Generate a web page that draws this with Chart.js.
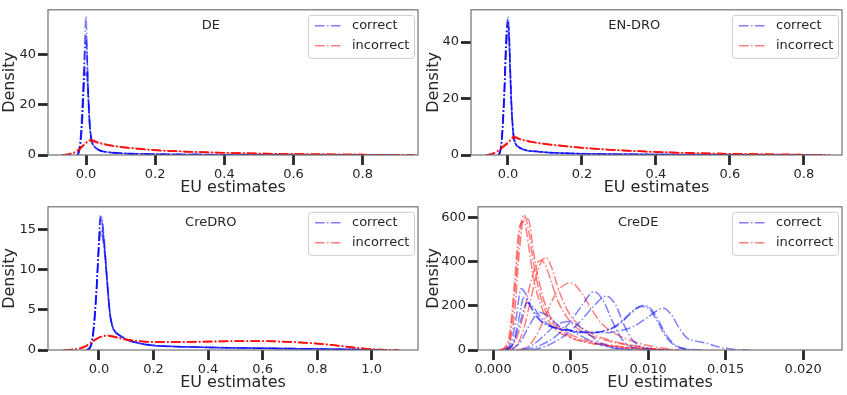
<!DOCTYPE html>
<html>
<head>
<meta charset="utf-8">
<script src="https://cdn.jsdelivr.net/npm/chart.js@4.4.0/dist/chart.umd.min.js"></script>
<style>
  html, body { margin: 0; padding: 0; background: #fff; }
  #wrap { position: relative; width: 847px; height: 395px; }
  #wrap canvas { position: absolute; }
</style>
</head>
<body>
<div id="wrap">
  <canvas id="de" width="424" height="197" style="left:0;top:0"></canvas>
  <canvas id="endro" width="423" height="197" style="left:424px;top:0"></canvas>
  <canvas id="credro" width="424" height="198" style="left:0;top:197px"></canvas>
  <canvas id="crede" width="423" height="198" style="left:424px;top:197px"></canvas>
</div>
<script>
// ---- DE ----
const deXTicks = [0.0, 0.2, 0.4, 0.6, 0.8];
const deYTicks = [0, 20, 40];
const deCorrectX = [-0.025, -0.02, -0.015, -0.01, -0.005, 0, 0.003, 0.006, 0.01, 0.015, 0.02, 0.03, 0.04, 0.06, 0.08, 0.1, 0.15, 0.2, 0.3, 0.4, 0.5, 0.6, 0.7, 0.8, 0.9];
const deCorrect1 = [0, 2, 8, 20, 40, 55, 42, 28, 15, 6.5, 4.2, 2.6, 1.8, 1.2, 0.9, 0.7, 0.5, 0.35, 0.2, 0.12, 0.08, 0.05, 0.03, 0.02, 0];
const deCorrect2 = [0, 1.5, 6, 16, 28, 33, 31, 23, 13, 6.5, 4.3, 2.7, 1.8, 1.2, 0.9, 0.7, 0.5, 0.35, 0.2, 0.12, 0.08, 0.05, 0.03, 0.02, 0];
const deCorrect3 = [0, 1, 5, 15, 34, 48, 38, 24, 12, 6, 4, 2.5, 1.7, 1.1, 0.85, 0.65, 0.45, 0.3, 0.18, 0.1, 0.07, 0.04, 0.03, 0.02, 0];
const deCorrect4 = [0, 1.8, 7, 18, 36, 45, 40, 27, 14, 6.8, 4.4, 2.8, 1.9, 1.3, 0.95, 0.75, 0.52, 0.36, 0.21, 0.12, 0.08, 0.05, 0.03, 0.02, 0];
const deCorrect5 = [0, 2.2, 9, 22, 33, 35, 32, 25, 14, 6.2, 4.1, 2.6, 1.75, 1.15, 0.88, 0.68, 0.48, 0.33, 0.19, 0.11, 0.07, 0.05, 0.03, 0.02, 0];
const deIncorrectX = [-0.07, -0.05, -0.03, -0.02, -0.01, 0, 0.01, 0.015, 0.02, 0.03, 0.05, 0.075, 0.1, 0.15, 0.2, 0.25, 0.3, 0.4, 0.5, 0.6, 0.7, 0.8, 0.9, 0.95];
const deIncorrect1 = [0, 0.3, 1.2, 2.2, 3.5, 4.8, 5.7, 5.9, 5.7, 5.2, 4.4, 3.7, 3.2, 2.5, 1.9, 1.6, 1.3, 0.9, 0.6, 0.4, 0.25, 0.15, 0.05, 0];
const deIncorrect2 = [0, 0.4, 1.4, 2.5, 3.8, 5.0, 5.5, 5.5, 5.3, 4.9, 4.2, 3.6, 3.1, 2.4, 1.9, 1.5, 1.25, 0.85, 0.55, 0.38, 0.24, 0.14, 0.05, 0];
const deIncorrect3 = [0, 0.2, 1.0, 2.0, 3.4, 4.9, 6.0, 6.2, 6.0, 5.4, 4.5, 3.8, 3.3, 2.6, 2.0, 1.6, 1.3, 0.9, 0.6, 0.4, 0.26, 0.15, 0.05, 0];
const deIncorrect4 = [0, 0.35, 1.3, 2.3, 3.6, 4.9, 5.8, 6.0, 5.8, 5.3, 4.5, 3.8, 3.25, 2.55, 1.95, 1.6, 1.3, 0.9, 0.6, 0.4, 0.25, 0.15, 0.05, 0];
const deIncorrect5 = [0, 0.25, 1.1, 2.1, 3.3, 4.6, 5.6, 5.8, 5.6, 5.1, 4.3, 3.65, 3.15, 2.45, 1.85, 1.55, 1.25, 0.88, 0.58, 0.39, 0.24, 0.14, 0.05, 0];

// ---- EN-DRO ----
const enXTicks = [0.0, 0.2, 0.4, 0.6, 0.8];
const enYTicks = [0, 20, 40];
const enCorrectX = [-0.025, -0.02, -0.015, -0.01, -0.005, 0, 0.003, 0.006, 0.01, 0.015, 0.02, 0.03, 0.04, 0.05, 0.075, 0.1, 0.15, 0.2, 0.3, 0.4, 0.5, 0.6, 0.7, 0.8, 0.85];
const enCorrect1 = [0, 2, 9, 22, 40, 49, 44, 32, 17, 7, 4.3, 2.8, 2.1, 1.7, 1.3, 1.0, 0.7, 0.5, 0.3, 0.2, 0.12, 0.07, 0.04, 0.02, 0];
const enCorrect2 = [0, 1.5, 7, 19, 36, 44, 42, 30, 16, 7, 4.2, 2.7, 2.0, 1.6, 1.25, 0.95, 0.65, 0.45, 0.28, 0.18, 0.11, 0.06, 0.04, 0.02, 0];
const enCorrect3 = [0, 2.5, 10, 24, 42, 47, 40, 28, 15, 6.5, 4, 2.6, 1.9, 1.6, 1.2, 0.9, 0.6, 0.45, 0.27, 0.17, 0.1, 0.06, 0.03, 0.02, 0];
const enCorrect4 = [0, 1.8, 8, 21, 38, 46, 43, 31, 16.5, 7.2, 4.4, 2.9, 2.1, 1.7, 1.3, 1.0, 0.68, 0.48, 0.29, 0.19, 0.11, 0.07, 0.04, 0.02, 0];
const enCorrect5 = [0, 2.2, 9.5, 23, 41, 48, 42, 29, 15.5, 6.8, 4.1, 2.7, 2.0, 1.6, 1.25, 0.95, 0.64, 0.46, 0.28, 0.18, 0.1, 0.06, 0.03, 0.02, 0];
const enIncorrectX = [-0.06, -0.045, -0.03, -0.02, -0.01, 0, 0.01, 0.015, 0.02, 0.03, 0.05, 0.075, 0.1, 0.15, 0.2, 0.25, 0.3, 0.4, 0.5, 0.6, 0.7, 0.8, 0.87];
const enIncorrect1 = [0, 0.3, 1.2, 2.2, 3.2, 4.3, 5.8, 6.3, 6.2, 5.7, 5.0, 4.4, 3.9, 3.2, 2.6, 2.1, 1.7, 1.1, 0.7, 0.45, 0.25, 0.12, 0];
const enIncorrect2 = [0, 0.4, 1.4, 2.5, 3.6, 4.6, 6.1, 6.7, 6.5, 5.9, 5.1, 4.5, 4.0, 3.3, 2.6, 2.1, 1.7, 1.1, 0.7, 0.45, 0.25, 0.12, 0];
const enIncorrect3 = [0, 0.2, 1.0, 2.0, 3.0, 4.1, 5.5, 6.0, 6.0, 5.6, 4.9, 4.3, 3.8, 3.1, 2.5, 2.0, 1.6, 1.05, 0.65, 0.42, 0.24, 0.11, 0];
const enIncorrect4 = [0, 0.35, 1.3, 2.4, 3.4, 4.5, 5.9, 6.5, 6.4, 5.8, 5.05, 4.45, 3.95, 3.25, 2.6, 2.1, 1.7, 1.1, 0.7, 0.45, 0.25, 0.12, 0];
const enIncorrect5 = [0, 0.25, 1.1, 2.1, 3.1, 4.2, 5.6, 6.1, 6.1, 5.65, 4.95, 4.35, 3.85, 3.15, 2.55, 2.05, 1.65, 1.08, 0.68, 0.44, 0.24, 0.11, 0];

// ---- CreDRO ----
const credroXTicks = [0.0, 0.2, 0.4, 0.6, 0.8, 1.0];
const credroYTicks = [0, 5, 10, 15];
const credroCorrectX = [-0.045, -0.03, -0.02, -0.01, 0, 0.005, 0.01, 0.02, 0.03, 0.04, 0.05, 0.06, 0.08, 0.1, 0.15, 0.2, 0.3, 0.4, 0.5, 0.6, 0.7, 0.8, 0.9, 1.0, 1.05];
const credroCorrect1 = [0, 0.5, 2.5, 7, 14, 16.8, 16.3, 13, 8.5, 4.5, 2.8, 2.2, 1.7, 1.3, 0.8, 0.55, 0.4, 0.32, 0.26, 0.22, 0.18, 0.14, 0.09, 0.03, 0];
const credroCorrect2 = [0, 0.6, 2.8, 7.5, 13, 15, 14.6, 12.2, 8.2, 4.4, 2.8, 2.2, 1.7, 1.3, 0.8, 0.55, 0.4, 0.32, 0.26, 0.22, 0.18, 0.14, 0.09, 0.03, 0];
const credroCorrect3 = [0, 0.4, 2.2, 6.5, 13.5, 16.2, 16.6, 13.4, 8.8, 4.7, 2.9, 2.3, 1.75, 1.35, 0.85, 0.58, 0.42, 0.33, 0.27, 0.22, 0.18, 0.13, 0.08, 0.03, 0];
const credroCorrect4 = [0, 0.55, 2.6, 7.2, 13.8, 16.4, 16.0, 12.8, 8.4, 4.6, 2.85, 2.25, 1.72, 1.32, 0.82, 0.56, 0.41, 0.32, 0.26, 0.22, 0.18, 0.14, 0.09, 0.03, 0];
const credroCorrect5 = [0, 0.45, 2.4, 6.8, 12.8, 14.6, 14.9, 12.9, 8.9, 4.8, 2.95, 2.3, 1.76, 1.36, 0.84, 0.57, 0.42, 0.33, 0.27, 0.22, 0.17, 0.13, 0.08, 0.03, 0];
const credroIncorrectX = [-0.13, -0.1, -0.07, -0.05, -0.03, -0.01, 0.01, 0.03, 0.05, 0.08, 0.1, 0.15, 0.2, 0.3, 0.4, 0.5, 0.6, 0.7, 0.8, 0.85, 0.9, 0.95, 1.0, 1.05, 1.1];
const credroIncorrect1 = [0, 0.05, 0.2, 0.45, 0.9, 1.35, 1.7, 1.8, 1.7, 1.45, 1.3, 1.1, 1.0, 1.0, 1.05, 1.1, 1.1, 1.0, 0.8, 0.65, 0.45, 0.25, 0.1, 0.03, 0];
const credroIncorrect2 = [0, 0.06, 0.25, 0.5, 0.95, 1.4, 1.65, 1.72, 1.62, 1.4, 1.25, 1.07, 0.98, 0.97, 1.02, 1.08, 1.08, 0.98, 0.78, 0.62, 0.43, 0.24, 0.1, 0.03, 0];
const credroIncorrect3 = [0, 0.04, 0.18, 0.4, 0.85, 1.3, 1.72, 1.85, 1.75, 1.5, 1.33, 1.12, 1.02, 1.02, 1.08, 1.12, 1.12, 1.02, 0.82, 0.66, 0.46, 0.26, 0.11, 0.03, 0];
const credroIncorrect4 = [0, 0.05, 0.22, 0.48, 0.92, 1.38, 1.68, 1.78, 1.68, 1.43, 1.28, 1.09, 1.0, 0.99, 1.04, 1.09, 1.09, 0.99, 0.79, 0.64, 0.44, 0.25, 0.1, 0.03, 0];
const credroIncorrect5 = [0, 0.04, 0.19, 0.43, 0.88, 1.32, 1.7, 1.82, 1.72, 1.47, 1.31, 1.11, 1.01, 1.01, 1.06, 1.11, 1.11, 1.01, 0.81, 0.65, 0.45, 0.25, 0.1, 0.03, 0];

// ---- CreDE ----
const credeXTicks = [0.000, 0.005, 0.010, 0.015, 0.020];
const credeYTicks = [0, 200, 400, 600];
const creRedX1 = [0.0004, 0.0008, 0.0011, 0.0014, 0.0017, 0.0020, 0.0023, 0.0026, 0.0030, 0.0035, 0.0040, 0.0050, 0.0060, 0.0070, 0.0080, 0.0090, 0.0100, 0.0110];
const creRed1 = [0, 10, 60, 260, 520, 615, 540, 400, 260, 160, 110, 60, 38, 25, 15, 8, 3, 0];
const creRed2 = [0, 15, 90, 320, 560, 585, 470, 330, 220, 140, 95, 55, 35, 22, 13, 6, 2, 0];
const creRed3 = [0, 5, 40, 180, 450, 600, 590, 450, 300, 180, 120, 70, 45, 30, 18, 10, 4, 0];
const creRedX2 = [0.0008, 0.0012, 0.0016, 0.0020, 0.0024, 0.0028, 0.0031, 0.0034, 0.0038, 0.0042, 0.0048, 0.0055, 0.0065, 0.0075, 0.0085, 0.0095, 0.0105, 0.0115];
const creRed4 = [0, 15, 70, 170, 300, 390, 408, 380, 300, 220, 145, 95, 60, 40, 25, 12, 4, 0];
const creRed5 = [0, 5, 30, 100, 220, 340, 400, 420, 370, 280, 180, 115, 70, 45, 28, 15, 5, 0];
const creRedX3 = [0.0015, 0.0020, 0.0025, 0.0030, 0.0035, 0.0040, 0.0045, 0.0049, 0.0053, 0.0058, 0.0063, 0.0070, 0.0080, 0.0090, 0.0100, 0.0110, 0.0120];
const creRed6 = [0, 8, 35, 95, 175, 250, 292, 305, 295, 250, 190, 120, 70, 40, 20, 8, 0];
const creBlueX1 = [0.0008, 0.0012, 0.0015, 0.0018, 0.0021, 0.0025, 0.0030, 0.0035, 0.0040, 0.0050, 0.0060, 0.0070, 0.0080, 0.0088, 0.0093, 0.0097, 0.0102, 0.0107, 0.0112, 0.0118, 0.0125, 0.0135];
const creBlue1 = [0, 40, 150, 278, 255, 185, 135, 112, 100, 88, 80, 84, 110, 160, 192, 203, 185, 130, 65, 20, 5, 0];
const creBlueX2 = [0.0008, 0.0013, 0.0017, 0.0022, 0.0026, 0.0030, 0.0035, 0.0040, 0.0050, 0.0060, 0.0070, 0.0080, 0.0090, 0.0100, 0.0106, 0.0110, 0.0115, 0.0120, 0.0125, 0.0130, 0.0137, 0.0145, 0.0155, 0.0165];
const creBlue2 = [0, 30, 115, 215, 195, 155, 120, 100, 85, 78, 78, 85, 105, 150, 180, 190, 160, 100, 55, 42, 32, 15, 3, 0];
const creBlueX3 = [0.0012, 0.0018, 0.0024, 0.0030, 0.0036, 0.0042, 0.0048, 0.0055, 0.0065, 0.0075, 0.0090];
const creBlue3 = [0, 40, 120, 172, 150, 112, 95, 70, 35, 12, 0];
const creBlueX4 = [0.0018, 0.0025, 0.0032, 0.0040, 0.0048, 0.0055, 0.0062, 0.0070, 0.0080, 0.0090];
const creBlue4 = [0, 20, 60, 110, 130, 110, 70, 30, 8, 0];
const creBlueX5 = [0.0020, 0.0030, 0.0040, 0.0050, 0.0058, 0.0065, 0.0071, 0.0077, 0.0083, 0.0090, 0.0100];
const creBlue5 = [0, 20, 60, 130, 210, 265, 225, 130, 50, 12, 0];
const creBlueX6 = [0.0025, 0.0035, 0.0045, 0.0055, 0.0065, 0.0073, 0.0079, 0.0085, 0.0090, 0.0098, 0.0110];
const creBlue6 = [0, 20, 60, 120, 200, 245, 205, 105, 45, 8, 0];
const creBlueX7 = [0.0009, 0.0013, 0.0016, 0.0020, 0.0024, 0.0030, 0.0036, 0.0045, 0.0055, 0.0065, 0.0075, 0.0083, 0.0090, 0.0096, 0.0101, 0.0106, 0.0112, 0.0120, 0.0130];
const creBlue7 = [0, 30, 120, 240, 200, 140, 110, 95, 85, 80, 95, 130, 178, 198, 185, 130, 55, 10, 0];

const BLUE = 'rgba(0, 0, 255, 0.5)';
const RED = 'rgba(255, 0, 0, 0.5)';
const DASHDOT = [9.6, 2.4, 1.5, 2.4];
const INK = '#262626';

Chart.defaults.font.family = "'DejaVu Sans', sans-serif";
Chart.defaults.color = INK;

function curve(xs, ys, color) {
    return {
        data: xs.map((x, i) => ({ x: x, y: ys[i] })),
        borderColor: color,
        borderWidth: 1.5,
        borderDash: DASHDOT,
        pointRadius: 0,
        fill: false,
        cubicInterpolationMode: 'monotone'
    };
}

// several runs sharing one x grid
function runs(xs, list, color) {
    return list.map(ys => curve(xs, ys, color));
}

// frame, panel title and legend drawn over the plot area
const panelDecor = {
    id: 'panelDecor',
    afterDatasetsDraw(chart, args, opts) {
        const { ctx, chartArea: a } = chart;
        ctx.save();
        ctx.strokeStyle = '#707070';
        ctx.lineWidth = 1.2;
        ctx.strokeRect(a.left, a.top, a.right - a.left, a.bottom - a.top);

        ctx.fillStyle = INK;
        ctx.font = "13px 'DejaVu Sans'";
        ctx.textAlign = 'center';
        ctx.textBaseline = 'middle';
        ctx.fillText(opts.title, a.left + 0.44 * (a.right - a.left), a.top + 16);

        // legend box
        const w = 106, h = 43;
        const bx = a.right - 4 - w, by = a.top + 5;
        ctx.fillStyle = 'rgba(255,255,255,0.8)';
        ctx.strokeStyle = '#cccccc';
        ctx.lineWidth = 1;
        ctx.beginPath();
        ctx.roundRect(bx + 0.5, by + 0.5, w, h, 3);
        ctx.fill();
        ctx.stroke();

        const rows = [['correct', BLUE], ['incorrect', RED]];
        rows.forEach((r, i) => {
            const y = by + 11 + i * 20;
            ctx.strokeStyle = r[1];
            ctx.lineWidth = 1.5;
            ctx.setLineDash(DASHDOT);
            ctx.beginPath();
            ctx.moveTo(bx + 7, y);
            ctx.lineTo(bx + 33, y);
            ctx.stroke();
            ctx.setLineDash([]);
            ctx.fillStyle = INK;
            ctx.textAlign = 'left';
            ctx.fillText(r[0], bx + 44, y);
        });
        ctx.restore();
    }
};

function makePanel(id, p) {
    const ctx = document.getElementById(id).getContext('2d');
    const tickGrid = {
        drawOnChartArea: false,
        drawTicks: true,
        tickLength: 10,
        tickWidth: 2.8,
        tickColor: INK
    };
    return new Chart(ctx, {
        type: 'line',
        data: { datasets: p.datasets },
        plugins: [panelDecor],
        options: {
            responsive: false,
            devicePixelRatio: 1,
            animation: false,
            layout: { padding: { left: 0, top: p.padTop, right: p.padRight, bottom: 0 } },
            plugins: {
                legend: { display: false },
                tooltip: { enabled: false },
                panelDecor: { title: p.title }
            },
            scales: {
                x: {
                    type: 'linear',
                    min: p.xMin,
                    max: p.xMax,
                    afterBuildTicks: s => { s.ticks = p.xTicks.map(v => ({ value: v })); },
                    afterFit: s => { s.height = p.xAxisH; },
                    grid: tickGrid,
                    border: { display: false },
                    ticks: {
                        autoSkip: false,
                        maxRotation: 0,
                        padding: 2,
                        color: INK,
                        font: { size: 13 },
                        callback: v => v.toFixed(p.xDigits)
                    },
                    title: {
                        display: true,
                        text: 'EU estimates',
                        color: INK,
                        font: { size: 16 },
                        padding: { top: 0, bottom: p.xTitlePad }
                    }
                },
                y: {
                    type: 'linear',
                    min: 0,
                    max: p.yMax,
                    afterBuildTicks: s => { s.ticks = p.yTicks.map(v => ({ value: v })); },
                    afterFit: s => { s.width = p.yAxisW; },
                    grid: tickGrid,
                    border: { display: false },
                    ticks: {
                        padding: 2,
                        color: INK,
                        font: { size: 13 },
                        callback: v => String(v)
                    },
                    title: {
                        display: true,
                        text: 'Density',
                        color: INK,
                        font: { size: 16 },
                        padding: 0
                    }
                }
            }
        }
    });
}

makePanel('de', {
    title: 'DE',
    datasets: [
        ...runs(deIncorrectX, [deIncorrect1, deIncorrect2, deIncorrect3, deIncorrect4, deIncorrect5], RED),
        ...runs(deCorrectX, [deCorrect1, deCorrect2, deCorrect3, deCorrect4, deCorrect5], BLUE)
    ],
    xMin: -0.11, xMax: 0.96, yMax: 57.7, xTicks: deXTicks, yTicks: deYTicks, xDigits: 1,
    padTop: 5, padRight: 6, yAxisW: 48, xAxisH: 42, xTitlePad: 0
});

makePanel('endro', {
    title: 'EN-DRO',
    datasets: [
        ...runs(enIncorrectX, [enIncorrect1, enIncorrect2, enIncorrect3, enIncorrect4, enIncorrect5], RED),
        ...runs(enCorrectX, [enCorrect1, enCorrect2, enCorrect3, enCorrect4, enCorrect5], BLUE)
    ],
    xMin: -0.1, xMax: 0.903, yMax: 51.4, xTicks: enXTicks, yTicks: enYTicks, xDigits: 1,
    padTop: 5, padRight: 5, yAxisW: 47, xAxisH: 42, xTitlePad: 0
});

makePanel('credro', {
    title: 'CreDRO',
    datasets: [
        ...runs(credroIncorrectX, [credroIncorrect1, credroIncorrect2, credroIncorrect3, credroIncorrect4, credroIncorrect5], RED),
        ...runs(credroCorrectX, [credroCorrect1, credroCorrect2, credroCorrect3, credroCorrect4, credroCorrect5], BLUE)
    ],
    xMin: -0.187, xMax: 1.17, yMax: 17.86, xTicks: credroXTicks, yTicks: credroYTicks, xDigits: 1,
    padTop: 3, padRight: 6, yAxisW: 48, xAxisH: 45, xTitlePad: 3
});

makePanel('crede', {
    title: 'CreDE',
    datasets: [
        curve(creBlueX1, creBlue1, BLUE), curve(creBlueX2, creBlue2, BLUE), curve(creBlueX3, creBlue3, BLUE),
        curve(creBlueX4, creBlue4, BLUE), curve(creBlueX5, creBlue5, BLUE), curve(creBlueX6, creBlue6, BLUE),
        curve(creBlueX7, creBlue7, BLUE),
        ...runs(creRedX1, [creRed1, creRed2, creRed3], RED),
        ...runs(creRedX2, [creRed4, creRed5], RED),
        curve(creRedX3, creRed6, RED)
    ],
    xMin: -0.00097, xMax: 0.0225, yMax: 650.7, xTicks: credeXTicks, yTicks: credeYTicks, xDigits: 3,
    padTop: 3, padRight: 5, yAxisW: 54, xAxisH: 45, xTitlePad: 3
});
</script>
</body>
</html>
